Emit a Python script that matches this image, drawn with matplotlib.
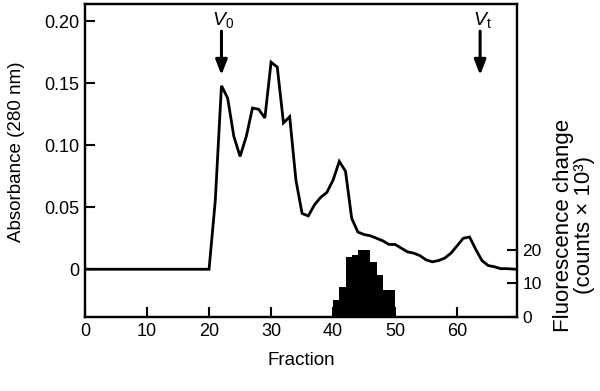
import numpy as np
import matplotlib
matplotlib.use("Agg")
from matplotlib import pyplot as plt

plt.rcParams['font.family'] = ['Liberation Sans', 'DejaVu Sans']
plt.rcParams['mathtext.fontset'] = 'custom'
plt.rcParams['mathtext.rm'] = 'Liberation Sans'
plt.rcParams['mathtext.it'] = 'Liberation Sans:italic'

# absorbance trace (fraction, A280)
fraction = [0, 20, 21, 22, 23, 24, 25, 26, 27, 28, 29, 30, 31, 32, 33, 34, 35,
            36, 37, 38, 39, 40, 41, 42, 43, 44, 45, 46, 47, 48, 49, 50, 51, 52,
            53, 54, 55, 56, 57, 58, 59, 60, 61, 62, 63, 64, 65, 66, 67, 68, 69.5]
absorbance = [0, 0, 0.055, 0.148, 0.138, 0.107, 0.091, 0.107, 0.130, 0.129,
              0.122, 0.167, 0.163, 0.118, 0.123, 0.072, 0.045, 0.043, 0.052,
              0.058, 0.062, 0.072, 0.087, 0.079, 0.041, 0.030, 0.028, 0.027,
              0.025, 0.023, 0.020, 0.020, 0.017, 0.014, 0.013, 0.011, 0.0075,
              0.006, 0.007, 0.009, 0.013, 0.019, 0.025, 0.026, 0.016, 0.007,
              0.003, 0.002, 0.0005, 0.0005, 0.0]

# fluorescence change histogram (counts x 10^3)
fl_fraction = [40, 41, 42, 43, 44, 45, 46, 47, 48, 49]
fl_counts = [5, 9, 18, 18.5, 20, 20, 16.5, 12.5, 8, 8]

# void / total volume markers
markers = ['$V_0$', '$V_\\mathrm{t}$']
marker_pos = [22, 63.7]

fig = plt.figure(figsize=(6, 3.91), dpi=100)
ax = fig.add_axes([85 / 600, 1 - 317 / 391, 431.7 / 600, 313 / 391])
ax2 = ax.twinx()

ax.plot(fraction, absorbance, color='black', lw=2.0, solid_joinstyle='miter')
ax2.bar(fl_fraction, fl_counts, width=1.0, align='edge', color='black', linewidth=0)

ax.set_xlim(0, 69.6)
ax.set_ylim(-0.0385, 0.2139)
ax2.set_ylim(0, 93.4)

ax.set_xticks([0, 10, 20, 30, 40, 50, 60])
ax.set_yticks([0, 0.05, 0.10, 0.15, 0.20])
ax.set_yticklabels(['0', '0.05', '0.10', '0.15', '0.20'])
ax2.set_yticks([0, 10, 20])

for a in (ax, ax2):
    for s in a.spines.values():
        s.set_linewidth(1.6)
    a.tick_params(direction='in', length=7, width=1.5, labelsize=13, pad=4)
ax2.tick_params(axis='y', labelsize=12.5)
ax.tick_params(axis='x', top=False)

for lab, x in zip(markers, marker_pos):
    ax.annotate('', xy=(x, 0.1566), xytext=(x, 0.192),
                arrowprops=dict(arrowstyle='-|>,head_length=0.9,head_width=0.35',
                                color='black', lw=2.2, shrinkA=0, shrinkB=0))
    ax.text(x + 0.3, 0.201, lab, fontsize=14, ha='center', va='center')

ax.set_xlabel('Fraction', fontsize=13.5, labelpad=9)
fig.text(16.5 / 600, 1 - 152 / 391, 'Absorbance (280 nm)', rotation=90,
         fontsize=13.5, ha='center', va='center')
fig.text(574 / 600, 1 - 225 / 391, 'Fluorescence change\n(counts × 10³)',
         rotation=90, fontsize=16, ha='center', va='center',
         multialignment='center', linespacing=1.05)

fig.savefig('out.png', dpi=100)
